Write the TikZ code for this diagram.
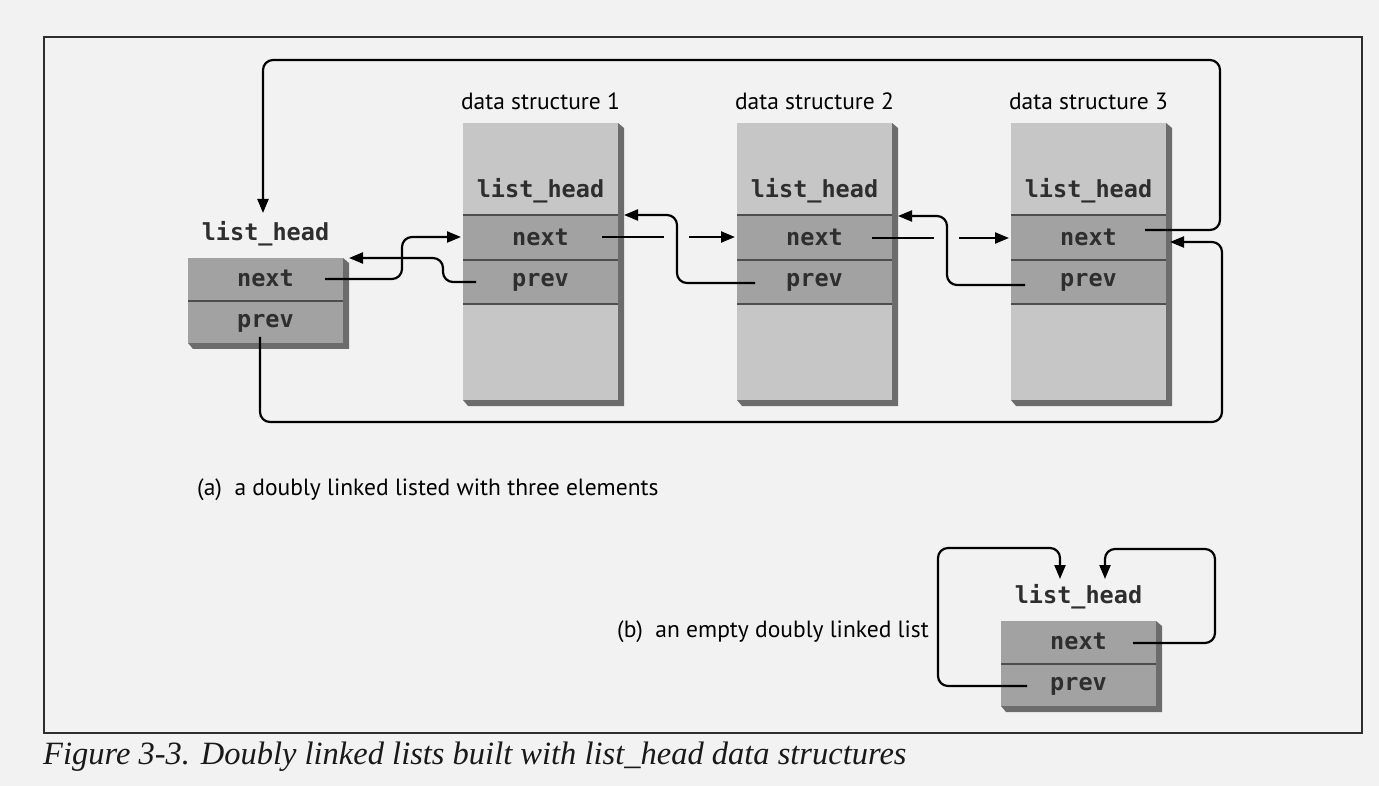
\documentclass[tikz,border=0pt]{standalone}
\usepackage{fontspec}
\newfontfamily\fieldfont{DejaVu Sans Mono}
\newfontfamily\labelfont{PT Sans}
\newfontfamily\capfont{Liberation Serif}
\usetikzlibrary{arrows.meta}

\definecolor{paper}{HTML}{F2F2F2}
\definecolor{boxlight}{HTML}{C6C6C6}
\definecolor{boxrow}{HTML}{A2A2A2}
\definecolor{boxedge}{HTML}{6C6C6C}
\definecolor{rowedge}{HTML}{4E4E4E}
\definecolor{framecol}{HTML}{2E2E2E}

\tikzset{
  field/.style={font=\fieldfont\bfseries\fontsize{23.5}{25}\selectfont, text=black!82, inner sep=0pt},
  title/.style={font=\labelfont\fontsize{23.5}{25}\selectfont, inner sep=0pt},
  link/.style={line width=2.2pt, rounded corners=10pt},
  tipped/.style={link, -{Triangle[length=14pt,width=11pt]}},
  rowline/.style={draw=rowedge, line width=2.6pt},
  shadow3d/.style={fill=boxedge},
}

% one data structure with an embedded list_head; #1 = left x, #2 = number
\newcommand\drawstruct[2]{%
  \fill[shadow3d] (#1+155,123) -- (#1+161,128) -- (#1+161,406) -- (#1+5,406)
                  -- (#1,400) -- (#1+155,400) -- cycle;
  \fill[boxlight] (#1,123) rectangle (#1+155,400);
  \fill[boxrow] (#1,215) rectangle (#1+155,304);
  \draw[rowline] (#1,215) -- ++(155,0) (#1,260) -- ++(155,0) (#1,304) -- ++(155,0);
  \node[title] (ds#2-title) at (#1+77.5,101) {data structure #2};
  \node[field] (ds#2-head) at (#1+77.5,191) {list\_head};
  \node[field] (ds#2-next) at (#1+77.5,237) {next};
  \node[field] (ds#2-prev) at (#1+77.5,282) {prev};
}

% a bare list_head; #1 = left x, #2 = top y, #3 = name
\newcommand\drawhead[3]{%
  \fill[shadow3d] (#1+155,#2) -- (#1+161,#2+5) -- (#1+161,#2+91) -- (#1+5,#2+91)
                  -- (#1,#2+85) -- (#1+155,#2+85) -- cycle;
  \fill[boxrow] (#1,#2) rectangle (#1+155,#2+85);
  \draw[rowline] (#1,#2+43) -- ++(155,0);
  \node[field] (#3-head) at (#1+77.5,#2-24) {list\_head};
  \node[field] (#3-next) at (#1+77.5,#2+20) {next};
  \node[field] (#3-prev) at (#1+77.5,#2+65) {prev};
}

\begin{document}
\begin{tikzpicture}[x=1pt,y=-1pt]
\useasboundingbox (0,0) rectangle (1379,786);
\fill[paper] (0,0) rectangle (1379,786);

% outer frame
\draw[framecol, line width=2pt] (44,37) rectangle (1362,733);

% (a) list head and three elements
\drawhead{188}{258}{lh}
\drawstruct{463}{1}
\drawstruct{737}{2}
\drawstruct{1011}{3}

\node[title, anchor=west] (capa) at (197,490) {(a)\ \ a doubly linked listed with three elements};

% end points of the links
\coordinate (lhn) at (325,279);
\coordinate (lhp) at (260,337);
\coordinate (lhtop) at (349,258);
\coordinate (lhin) at (263,213);
\coordinate (d1in) at (461,237);
\coordinate (d1n) at (602,237);
\coordinate (d1p) at (476,282);
\coordinate (d1back) at (624,215);
\coordinate (d2in) at (735,237);
\coordinate (d2n) at (872,238);
\coordinate (d2p) at (755,283);
\coordinate (d2back) at (898,216);
\coordinate (d3in) at (1009,238);
\coordinate (d3n) at (1145,230);
\coordinate (d3p) at (1025,285);
\coordinate (d3back) at (1170,242);

% next / prev links
\draw[tipped] (lhn) -- (402,279) -- (402,237) -- (d1in);
\draw[tipped] (d1p) -- (443,282) -- (443,258) -- (lhtop);
\draw[link] (d1n) -- (664,237);
\draw[tipped] (689,237) -- (d2in);
\draw[tipped] (d2p) -- (677,283) -- (677,215) -- (d1back);
\draw[link] (d2n) -- (934,238);
\draw[tipped] (959,238) -- (d3in);
\draw[tipped] (d3p) -- (947,285) -- (947,216) -- (d2back);
\draw[tipped] (d3n) -- (1220,230) -- (1220,60) -- (263,60) -- (lhin);
\draw[tipped] (lhp) -- (260,422) -- (1222,422) -- (1222,242) -- (d3back);

% (b) empty list
\drawhead{1001}{621}{eh}
\node[title, anchor=west] (capb) at (617,632) {(b)\ \ an empty doubly linked list};
\coordinate (ehp) at (1027,686);
\coordinate (ehn) at (1133,643);
\coordinate (ehin1) at (1060,579);
\coordinate (ehin2) at (1105,579);
\draw[tipped] (ehp) -- (938,686) -- (938,548) -- (1060,548) -- (ehin1);
\draw[tipped] (ehn) -- (1215,643) -- (1215,549) -- (1105,549) -- (ehin2);

% figure caption
\node[anchor=base west, inner sep=0pt, font=\capfont\itshape\fontsize{32.5}{35}\selectfont, text=black!90]
  (figcap) at (43,764) {Figure 3-3. Doubly linked lists built with list\_head data structures};
\end{tikzpicture}
\end{document}
